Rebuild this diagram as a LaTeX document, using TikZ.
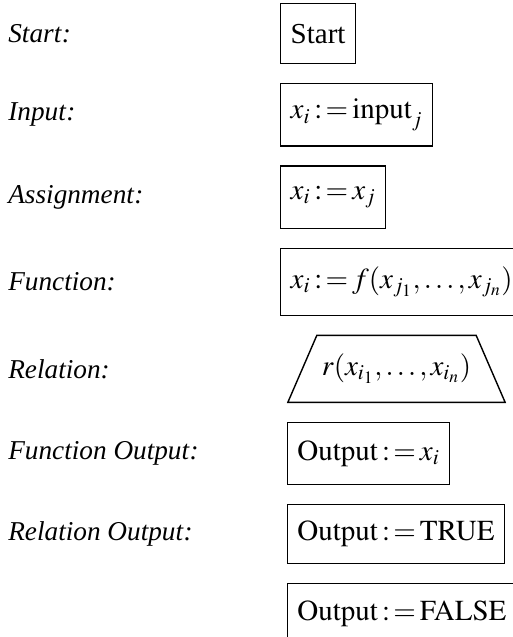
\documentclass[tikz,border=0pt]{standalone}
\usepackage{mathptmx}
\usepackage{fontspec}
\setmainfont{Liberation Serif}
\usetikzlibrary{shapes.geometric, positioning}
\newcommand{\asgn}{\mathbin{:\mkern2mu=}}

\begin{document}
\begin{tikzpicture}[
    stmt/.style={rectangle, draw=black, line width=0.8pt, minimum height=1.25cm, inner xsep=0.2cm, font=\fontsize{16.5}{19}\selectfont},
    rel/.style={stmt, trapezium, trapezium angle=66.6, text height=0.42cm, text depth=0.16cm, inner ysep=0.38cm, inner xsep=0.1cm},
    lbl/.style={anchor=west, inner sep=0pt, font=\fontsize{15.5}{18}\selectfont\itshape},
    node distance=0.37cm
  ]
  \useasboundingbox (0,0) rectangle (10.26,-12.74);
  \coordinate (lx) at (0.16,0);

  % --- Statement boxes ---
  \node[stmt, anchor=north west, minimum height=1.2cm] (s1) at (5.6,-0.06) {Start};
  \node[stmt, below=of s1.south west, anchor=north west] (s2) {$x_i\asgn\mathrm{input}_j$};
  \node[stmt, below=of s2.south west, anchor=north west] (s3) {$x_i\asgn x_j$};
  \node[stmt, below=of s3.south west, anchor=north west, minimum height=1.34cm] (s4) {$x_i\asgn f(x_{j_1},\ldots,x_{j_n})$};
  \node[rel, below=of s4.south west, xshift=2.33cm] (s5) {$r(x_{i_1},\ldots,x_{i_n})$};
  \node[stmt, below=of s5.bottom left corner, anchor=north west] (s6) {$\mathrm{Output}\asgn x_i$};
  \node[stmt, below=of s6.south west, anchor=north west, minimum height=1.18cm] (s7) {$\mathrm{Output}\asgn\mathrm{TRUE}$};
  \node[stmt, below=of s7.south west, anchor=north west, minimum height=1.2cm] (s8) {$\mathrm{Output}\asgn\mathrm{FALSE}$};

  % --- Labels ---
  \node[lbl] (l1) at (lx |- s1) {Start\/:};
  \node[lbl] (l2) at (lx |- s2) {Input\/:};
  \node[lbl] (l3) at (lx |- s3) {Assignment\/:};
  \node[lbl] (l4) at (lx |- s4) {Function\/:};
  \node[lbl] (l5) at (lx |- s5) {Relation\/:};
  \node[lbl] (l6) at (lx |- s6) {Function Output\/:};
  \node[lbl] (l7) at (lx |- s7) {Relation Output\/:};

\end{tikzpicture}
\end{document}
